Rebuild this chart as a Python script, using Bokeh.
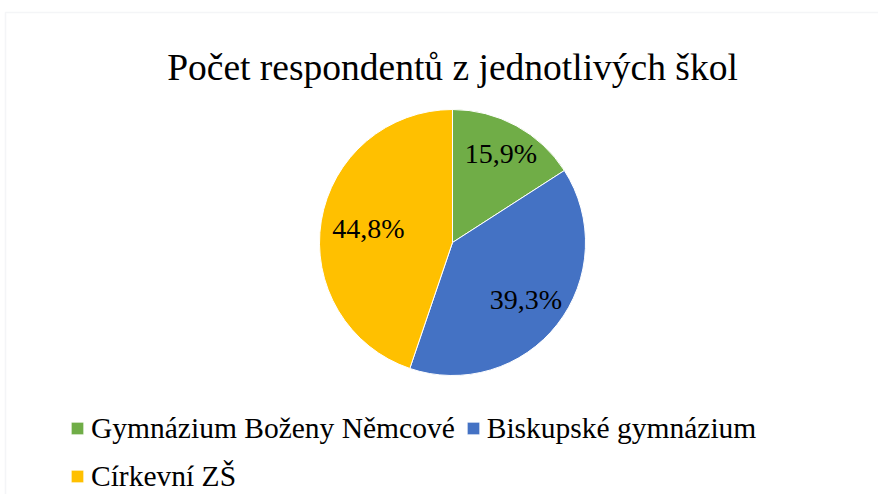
import math
from bokeh.plotting import figure
from bokeh.models import ColumnDataSource, Range1d, BoxAnnotation, Legend, LegendItem
from bokeh.core.properties import value
from bokeh.embed import file_html
from bokeh.resources import INLINE

title = "Počet respondentů z jednotlivých škol"
schools = ["Gymnázium Boženy Němcové", "Biskupské gymnázium", "Církevní ZŠ"]
shares = [15.9, 39.3, 44.8]
labels = ["15,9%", "39,3%", "44,8%"]
colors = ["#70ad47", "#4472c4", "#ffc000"]

# layout / style
W, H = 878, 494
cx, cy, R = 452, H - 242, 133
label_r = [0.76, 0.70, 0.64]
FONT = "Liberation Serif"

total = sum(shares)
starts, ends, lx, ly = [], [], [], []
cum = 0.0
for s, fr in zip(shares, label_r):
    a0 = math.pi / 2 - cum / total * 2 * math.pi
    cum += s
    a1 = math.pi / 2 - cum / total * 2 * math.pi
    starts.append(a0)
    ends.append(a1)
    mid = (a0 + a1) / 2
    lx.append(cx + fr * R * math.cos(mid))
    ly.append(cy + fr * R * math.sin(mid))

src = ColumnDataSource(dict(school=schools, share=shares, start=starts, end=ends,
                            color=colors, lx=lx, ly=ly, label=labels))

p = figure(width=W, height=H, output_backend="svg", toolbar_location=None,
           x_range=Range1d(0, W), y_range=Range1d(0, H), min_border=0,
           outline_line_color=None, background_fill_color="white",
           border_fill_color="white")
p.xaxis.visible = False
p.yaxis.visible = False
p.grid.visible = False

# chart area border
p.add_layout(BoxAnnotation(left=5, right=W + 20, top=H - 12, bottom=-20,
                           left_units="screen", right_units="screen",
                           top_units="screen", bottom_units="screen",
                           fill_alpha=0, line_color="#d9dde3", line_width=1.5))

r = p.wedge(x=cx, y=cy, radius=R, radius_units="screen", start_angle="start",
            end_angle="end", direction="clock", fill_color="color",
            line_color="white", line_width=1, source=src)

p.text(x="lx", y="ly", text="label", source=src, text_align="center",
       text_baseline="middle", text_font=value(FONT), text_font_size="28px",
       text_color="black")

# title
p.text(x=[cx], y=[H - 67], text=[title], text_align="center",
       text_baseline="alphabetic", text_font=value(FONT), text_font_size="37.5px",
       text_color="black")

# legend: column-major fill, so order items to read row by row
order = [0, 2, 1]
items = [LegendItem(label=schools[i], renderers=[r], index=i) for i in order]
lg = Legend(items=items, ncols=2, location=(69, -1), padding=0, margin=0,
            spacing=10, glyph_width=16, glyph_height=16, label_height=38,
            label_standoff=6, label_text_font=FONT, label_text_font_size="29.5px",
            label_text_color="black", border_line_alpha=0, background_fill_alpha=0)
p.add_layout(lg, "center")

open("out.html", "w").write(file_html(p, INLINE))
